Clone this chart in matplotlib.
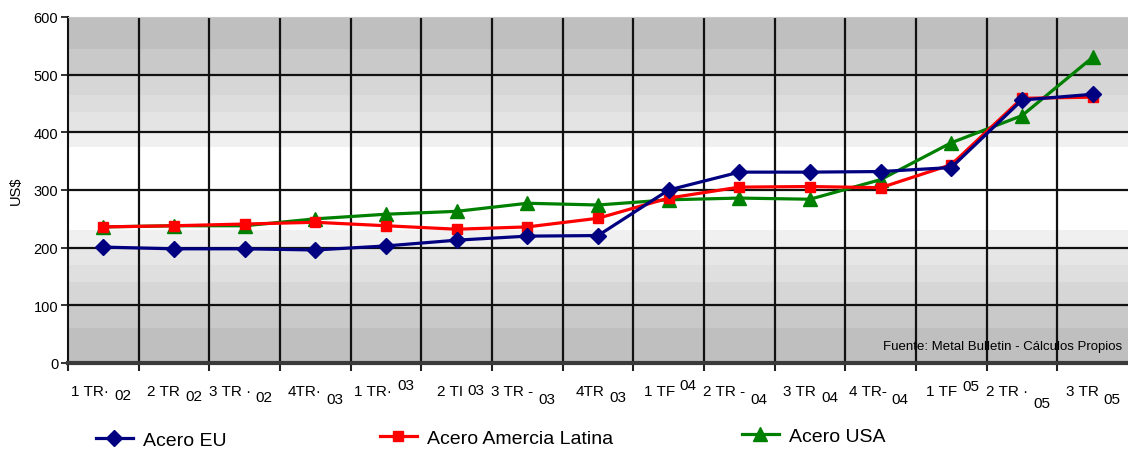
import numpy as np
import matplotlib.pyplot as plt

# quarter labels are drawn in two parts: the quarter text and the year
quarters = ["1 TR·", "2 TR", "3 TR ·", "4TR·", "1 TR·", "2 TI", "3 TR -", "4TR",
            "1 TF", "2 TR -", "3 TR", "4 TR-", "1 TF", "2 TR ·", "3 TR"]
years = ["02", "02", "02", "03", "03", "03", "03", "03",
         "04", "04", "04", "04", "05", "05", "05"]

acero_eu = [201, 198, 198, 196, 203, 213, 220, 221, 300, 331, 331, 332, 339, 456, 466]
acero_latam = [236, 238, 241, 244, 238, 232, 236, 251, 286, 305, 306, 304, 344, 459, 461]
acero_usa = [236, 238, 238, 250, 258, 263, 277, 274, 283, 286, 284, 318, 382, 429, 530]

y_ticks = [0, 100, 200, 300, 400, 500, 600]
fuente = "Fuente: Metal Bulletin - Cálculos Propios"

# vertical shift (pixels) of the year part of each tick label
year_shift = [-4, -5, -6, -8, 6, 1, -8, -6, 6, -8, -6, -8, 5, -12, -8]

# background bands (value edges and gray level)
band_edges = [0, 60, 100, 140, 170, 200, 230, 375, 400, 435, 465, 500, 545, 600]
band_grays = [0xbf, 0xc9, 0xd6, 0xdf, 0xe6, 0xf0, 0xff, 0xf0, 0xe4, 0xdd, 0xd6, 0xc9, 0xbf]

plt.rcParams['font.family'] = ['Liberation Sans', 'DejaVu Sans']

W, H = 1128, 452
fig = plt.figure(figsize=(W / 100, H / 100), dpi=100)
ax = fig.add_axes([68 / W, 88 / H, (W - 68) / W, 346 / H])

x = np.arange(len(quarters))

for lo, hi, g in zip(band_edges[:-1], band_edges[1:], band_grays):
    ax.axhspan(lo, hi, color='#%02x%02x%02x' % (g, g, g), lw=0, zorder=0)

ax.set_xlim(-0.5, len(quarters) - 0.5)
ax.set_ylim(0, 600)

# grid
for b in np.arange(0.5, len(quarters) - 0.5, 1):
    ax.axvline(b, color='#111111', lw=1.6, zorder=1)
for v in y_ticks[1:-1]:
    ax.axhline(v, color='#111111', lw=1.6, zorder=1)

ax.plot(x, acero_eu, color='#000080', lw=2.3, marker='D', ms=8.5, zorder=5, label='Acero EU')
ax.plot(x, acero_latam, color='#ff0000', lw=2.3, marker='s', ms=7, zorder=4, label='Acero Amercia Latina')
ax.plot(x, acero_usa, color='#008000', lw=2.3, marker='^', ms=10, zorder=3, label='Acero USA')

ax.set_xticks(np.arange(-0.5, len(quarters) - 0.5, 1))
ax.set_xticklabels([])
ax.tick_params(axis='x', direction='out', length=6, width=1.5, color='#222222')
ax.set_yticks(y_ticks)
ax.set_yticklabels([str(v) for v in y_ticks], fontsize=10.5)
ax.tick_params(axis='y', direction='out', length=5, width=1.3, pad=2, color='#222222')

ax.spines['left'].set_color('#111111')
ax.spines['left'].set_linewidth(1.5)
ax.spines['bottom'].set_color('#3a3a3a')
ax.spines['bottom'].set_linewidth(3)
ax.spines['top'].set_color('#c8c8c8')
ax.spines['right'].set_visible(False)

ax.set_ylabel('US$', fontsize=10.5, labelpad=8)

# two-part tick labels under the categories
trans = ax.get_xaxis_transform()
for i, (q, yr, dy) in enumerate(zip(quarters, years, year_shift)):
    ax.annotate(q, xy=(i, 0), xycoords=trans, xytext=(6, -28), textcoords='offset pixels',
                ha='right', va='center', fontsize=11)
    ax.annotate(yr, xy=(i, 0), xycoords=trans, xytext=(11, -28 + dy), textcoords='offset pixels',
                ha='left', va='center', fontsize=11)

ax.text(0.994, 0.05, fuente, transform=ax.transAxes, ha='right', va='center',
        fontsize=9.5, zorder=6)

handles, labels = ax.get_legend_handles_labels()
leg_x = [96, 380, 742]
leg_y = [441, 439, 437]
for h, l, lx, ly in zip(handles, labels, leg_x, leg_y):
    fig.legend([h], [l], loc='center left', bbox_to_anchor=(lx / W, 1 - ly / H),
               frameon=False, fontsize=14, borderpad=0, borderaxespad=0,
               handlelength=1.9, handletextpad=0.5)

fig.savefig('out.png', dpi=100)
